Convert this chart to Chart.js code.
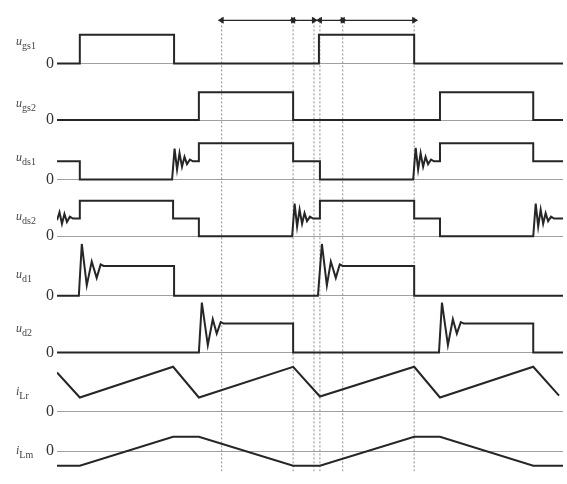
<!DOCTYPE html>
<html><head><meta charset="utf-8">
<script src="https://cdn.jsdelivr.net/npm/chart.js@4"></script>
<style>html,body{margin:0;padding:0;background:#fff}#wrap{width:567px;height:484px;position:relative}</style>
</head><body><div id="wrap"><canvas id="c" width="567" height="484"></canvas></div>
<script>
// ---- data (time, value) ----
const rowNames = [['u','gs1'],['u','gs2'],['u','ds1'],['u','ds2'],['u','d1'],['u','d2'],['i','Lr'],['i','Lm']];
const uGs1 = [[0,0],[2.3,0],[2.3,1],[11.8,1],[11.8,0],[26.4,0],[26.4,1],[36.0,1],[36.0,0],[51,0]];
const uGs2 = [[0,0],[14.3,0],[14.3,1],[23.8,1],[23.8,0],[38.6,0],[38.6,1],[48.0,1],[48.0,0],[51,0]];
const uDs1 = [[0,1],[2.3,1],[2.3,0],[11.6,0],[11.85,1.7],[12.1,0.55],[12.35,1.45],[12.6,0.7],[12.85,1.25],[13.1,0.85],[13.4,1.1],[13.7,1],[14.3,1],[14.3,2],[23.8,2],[23.8,1],[26.5,1],[26.5,0],[35.9,0],[36.15,1.74],[36.4,0.55],[36.65,1.45],[36.9,0.7],[37.15,1.25],[37.4,0.85],[37.7,1.1],[38.0,1],[38.6,1],[38.6,2],[48.0,2],[48.0,1],[51,1]];
const uDs2 = [[0,0.9],[0.25,1.35],[0.5,0.7],[0.75,1.25],[1.0,0.8],[1.3,1.1],[1.6,1],[2.3,1],[2.3,2],[11.7,2],[11.7,1],[14.3,1],[14.3,0],[23.7,0],[23.95,1.84],[24.2,0.55],[24.45,1.5],[24.7,0.7],[24.95,1.3],[25.2,0.85],[25.5,1.1],[25.8,1],[26.5,1],[26.5,2],[36.0,2],[36.0,1],[38.6,1],[38.6,0],[48.0,0],[48.25,1.84],[48.5,0.55],[48.75,1.5],[49.0,0.7],[49.25,1.3],[49.5,0.85],[49.8,1.1],[50.1,1],[51,1]];
const uD1 = [[0,0],[2.2,0],[2.5,1.74],[3.0,0.35],[3.5,1.15],[4.0,0.6],[4.4,1.05],[4.7,1],[11.8,1],[11.8,0],[26.3,0],[26.7,1.74],[27.2,0.35],[27.6,1.15],[28.1,0.6],[28.5,1.05],[28.8,1],[36.0,1],[36.0,0],[51,0]];
const uD2 = [[0,0],[14.3,0],[14.6,1.73],[15.2,0.25],[15.7,1.15],[16.1,0.65],[16.5,1.05],[16.8,1],[23.8,1],[23.8,0],[38.5,0],[38.8,1.73],[39.4,0.25],[39.9,1.15],[40.3,0.65],[40.7,1.05],[41.0,1],[48.0,1],[48.0,0],[51,0]];
const iLr = [[0,4.1],[2.3,1.5],[11.7,4.7],[14.3,1.5],[23.8,4.7],[26.5,1.6],[36.0,4.7],[38.6,1.5],[48.0,4.7],[50.6,1.7]];
const iLm = [[0,-1.5],[2.3,-1.5],[11.7,1.5],[14.3,1.5],[23.8,-1.5],[26.5,-1.5],[36.0,1.5],[38.6,1.5],[48.0,-1.5],[51,-1.5]];
const markerTimes = [16.6, 23.8, 25.9, 26.5, 28.8, 36.0];
const arrowSpans = [[16.6,23.8],[23.8,25.9],[26.5,28.8],[28.8,36.0]];
const series = [uGs1,uGs2,uDs1,uDs2,uD1,uD2,iLr,iLm];

// ---- layout of the stacked rows (px heights, value ranges, label lift) ----
const rowLayout = [
  {h:42, min:-0.167, max:1.233, lift:21},
  {h:60, min:-0.207, max:1.862, lift:16},
  {h:61, min:-0.263, max:2.947, lift:22},
  {h:59, min:-0.270, max:2.919, lift:19},
  {h:61, min:-0.129, max:1.839, lift:21},
  {h:59, min:-0.133, max:1.833, lift:23},
  {h:66, min:-0.8,   max:5.8,   lift:20},
  {h:54, min:-2.1,   max:3.3,   lift:0}
];
const LEFT = 57, TOP = 6, ARROW_H = 16;
const INK = '#262626';

const toXY = arr => arr.map(p => ({x:p[0], y:p[1]}));

// stacked axes are laid out bottom-up in definition order, so define the bottom row first
const scales = {
  x: {type:'linear', min:0, max:51, display:false},
  yAll: {type:'linear', position:'left', min:0, max:1, display:false}
};
for (let i = rowLayout.length - 1; i >= 0; i--) {
  const r = rowLayout[i];
  scales['r' + i] = {
    type:'linear', position:'left', stack:'rows', stackWeight:r.h, min:r.min, max:r.max,
    afterFit: s => { s.width = LEFT; },
    afterBuildTicks: s => { s.ticks = [{value:0}]; },
    ticks:{callback:() => '0', color:'#333', padding:3, font:{family:'Liberation Serif', size:16}},
    grid:{drawTicks:false, color:'#a0a0a0', lineWidth:1},
    border:{display:false}
  };
}
scales.yA = {type:'linear', position:'left', stack:'rows', stackWeight:ARROW_H, min:-1, max:1,
  display:true, ticks:{display:false}, grid:{display:false}, border:{display:false},
  afterFit: s => { s.width = LEFT; }};

const datasets = [];
series.forEach((s, i) => {
  datasets.push({data:toXY(s), yAxisID:'r' + i, borderColor:INK, borderWidth:2,
    pointRadius:0, tension:0, fill:false, order:1, borderJoinStyle:'miter'});
});
arrowSpans.forEach(sp => {
  datasets.push({data:[{x:sp[0], y:0},{x:sp[1], y:0}], yAxisID:'yA', borderColor:INK, borderWidth:1.3,
    pointStyle:'triangle', pointRadius:4, pointRotation:[270, 90], pointBackgroundColor:INK,
    pointBorderColor:INK, pointBorderWidth:0, order:0});
});
const vData = [];
markerTimes.forEach(t => { vData.push({x:t, y:0}, {x:t, y:0.99}, {x:t, y:null}); });
datasets.push({data:vData, yAxisID:'yAll', borderColor:'#8c8c8c', borderWidth:1, borderDash:[2,2],
  pointRadius:0, spanGaps:false, order:5});

const labelPlugin = {
  id:'rowLabels',
  afterDraw(chart) {
    const ctx = chart.ctx;
    rowLayout.forEach((r, i) => {
      const s = chart.scales['r' + i];
      const y = s.getPixelForValue(0) - r.lift + 3;
      const [main, sub] = rowNames[i];
      ctx.save();
      ctx.fillStyle = '#444';
      ctx.textBaseline = 'alphabetic';
      ctx.textAlign = 'left';
      ctx.font = 'italic 12px "Liberation Serif"';
      ctx.fillText(main, 16, y);
      const w = ctx.measureText(main).width;
      ctx.font = '10px "Liberation Serif"';
      ctx.fillText(sub, 16 + w, y + 4);
      ctx.restore();
    });
  }
};

new Chart(document.getElementById('c'), {
  type:'line',
  data:{datasets},
  options:{
    responsive:false, maintainAspectRatio:false, devicePixelRatio:1, animation:false,
    layout:{padding:{left:0, right:0, top:TOP, bottom:0}},
    plugins:{legend:{display:false}, tooltip:{enabled:false}},
    scales
  },
  plugins:[labelPlugin]
});
</script></body></html>
